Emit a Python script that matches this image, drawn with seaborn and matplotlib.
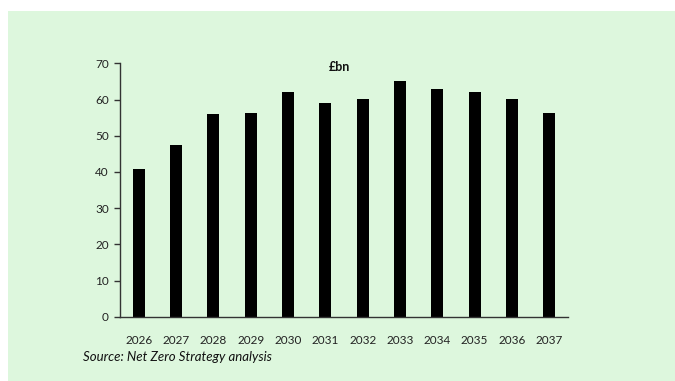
import matplotlib
matplotlib.use("Agg")
import matplotlib.pyplot as plt
import seaborn as sns
import pandas as pd
from matplotlib.patches import Rectangle

years = ["2026", "2027", "2028", "2029", "2030", "2031", "2032", "2033", "2034", "2035", "2036", "2037"]
values = [40.7, 47.4, 56.0, 56.2, 62.0, 58.9, 60.1, 65.0, 62.9, 62.1, 60.1, 56.4]
yticks = [0, 10, 20, 30, 40, 50, 60, 70]

sns.set_theme(style="white")
plt.rcParams['font.family'] = ['Lato', 'DejaVu Sans']

W, H = 675, 381
fig = plt.figure(figsize=(W / 100, H / 100), dpi=100, facecolor="white")
green = "#ddf7dd"
fig.patches.append(Rectangle((8 / W, 0), 1 - 8 / W, 1 - 11 / H, transform=fig.transFigure,
                             facecolor=green, edgecolor="none", zorder=-10))

ax = fig.add_axes([120 / W, 1 - 316.7 / H, (568 - 120) / W, (316.7 - 63.3) / H])
ax.set_facecolor("none")

df = pd.DataFrame({"year": years, "value": values})
sns.barplot(data=df, x="year", y="value", color="black", width=0.33, saturation=1,
            edgecolor="black", linewidth=0, ax=ax)

ax.set_ylim(0, 70)
ax.set_xlim(-0.5, len(years) - 0.5)
ax.set_yticks(yticks)
ax.set_xlabel("")
ax.set_ylabel("")
for s in ["top", "right"]:
    ax.spines[s].set_visible(False)
for s in ["left", "bottom"]:
    ax.spines[s].set_color("#333333")
    ax.spines[s].set_linewidth(1.0)
ax.tick_params(axis="y", which="both", left=True, length=4, width=1.0, color="#333333",
               labelsize=8.5, labelcolor="#222222", pad=4)
ax.tick_params(axis="x", which="both", bottom=False, labelsize=8.5, labelcolor="#222222", pad=7)

ax.text(0.49, 0.985, "£bn", transform=ax.transAxes, ha="center", va="center",
        fontsize=9, fontweight="bold", color="#111111")
fig.text(83 / W, 1 - 357 / H, "Source: Net Zero Strategy analysis", ha="left", va="center",
         fontsize=9.5, style="italic", color="#111111")

fig.savefig("out.png", dpi=100, facecolor="white")
